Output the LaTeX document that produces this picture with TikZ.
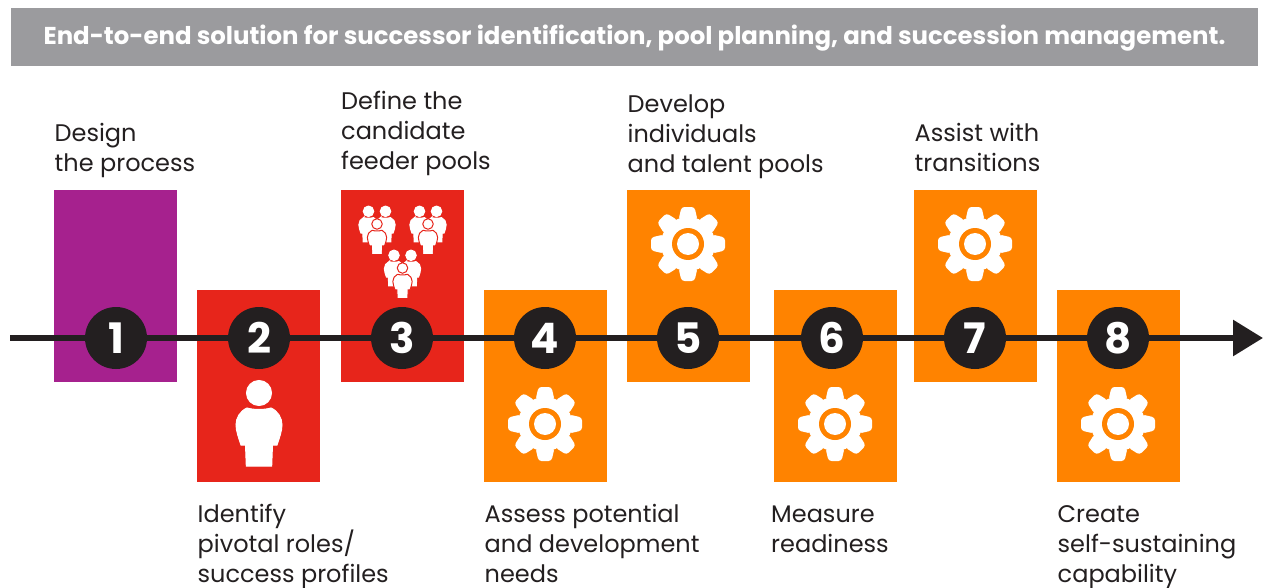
\documentclass[tikz,border=0pt]{standalone}
\usepackage{xcolor}
\usepackage{fontspec}
\setmainfont{Poppins}
\definecolor{headgray}{RGB}{155, 155, 158}
\definecolor{stagepurple}{RGB}{166, 33, 142}
\definecolor{stagered}{RGB}{231, 37, 27}
\definecolor{stageorange}{RGB}{255, 131, 0}
\definecolor{linedark}{RGB}{35, 31, 32}
\usetikzlibrary{arrows.meta, positioning, calc}
\tikzset{
    stagebox/.style={fill=#1, minimum width=123pt, minimum height=192pt, inner sep=0pt},
    numdot/.style={circle, fill=linedark, text=white, minimum size=62pt, inner sep=0pt, font=\fontsize{42}{42}\selectfont\bfseries},
    steplabel/.style={anchor=base west, inner sep=0pt, align=left, text=linedark, font=\fontsize{24}{30}\selectfont},
    gear/.pic={
        \fill[white] (0,0) circle (27);
        \foreach \a in {0,45,...,315}
            \fill[white, rotate=\a, rounded corners=3pt] (-9.5,-24) -- (-6.5,-37) -- (6.5,-37) -- (9.5,-24) -- cycle;
        \fill[stageorange] (0,0) circle (16);
        \fill[white] (0,0) circle (11);
    },
    personedge/.initial=white,
    personbody/.style={fill=white, draw=\pgfkeysvalueof{/tikz/personedge}, line width=1pt},
    person/.pic={
        \draw[personbody] (-12,15) .. controls (-19,18) and (-23,25) .. (-23,32)
            .. controls (-23,38) and (-20,46) .. (-18,52) -- (-13.5,52) -- (-12.7,73) -- (12.7,73) -- (13.5,52) -- (18,52)
            .. controls (20,46) and (23,38) .. (23,32) .. controls (23,25) and (19,18) .. (12,15)
            .. controls (5,17) and (-5,17) .. cycle;
        \draw[personbody] (0,0) circle (12.5);
    },
    trio/.pic={
        \pic[scale=.42] at (-8.5,-12.7) {person};
        \pic[scale=.42] at (8.5,-12.7) {person};
        \pic[scale=.42, personedge=stagered] at (0,0) {person};
    }
}
\begin{document}
\begin{tikzpicture}[x=1pt, y=-1pt]
    \useasboundingbox (0,0) rectangle (1268,588);
    % banner
    \node[fill=headgray, text=white, minimum width=1247pt, minimum height=58pt, inner sep=0pt,
          text height=14.6pt, text depth=0pt,
          font=\fontsize{24.4}{28}\selectfont\bfseries] (banner) at (634.5,37)
        {End-to-end solution for successor identification, pool planning, and succession management.};
    % stage boxes
    \node[stagebox=stagepurple] (box1) at (115.5,286) {};
    \node[stagebox=stagered] (box2) at (258.5,386) {};
    \node[stagebox=stagered] (box3) at (402.5,286) {};
    \node[stagebox=stageorange] (box4) at (545.5,386) {};
    \node[stagebox=stageorange] (box5) at (688.5,286) {};
    \node[stagebox=stageorange] (box6) at (835.5,386) {};
    \node[stagebox=stageorange] (box7) at (975.5,286) {};
    \node[stagebox=stageorange] (box8) at (1118.5,386) {};
    % timeline
    \coordinate (tstart) at (10,338);
    \coordinate (tend) at (1263,338);
    \draw[linedark, line width=6pt, -{Triangle[length=30pt, width=35pt]}] (tstart) -- (tend);
    % numbers
    \node[numdot] (num1) at (116,338) {1};
    \node[numdot] (num2) at (259,338) {2};
    \node[numdot] (num3) at (402,338) {3};
    \node[numdot] (num4) at (545,338) {4};
    \node[numdot] (num5) at (688,338) {5};
    \node[numdot] (num6) at (832,338) {6};
    \node[numdot] (num7) at (975,338) {7};
    \node[numdot] (num8) at (1118,338) {8};
    % icons
    \pic at (259,393) {person};
    \pic at (377,224) {trio};
    \pic at (428,224) {trio};
    \pic at (402.5,268) {trio};
    \pic at (688,244) {gear};
    \pic at (975,244) {gear};
    \pic at (545,424) {gear};
    \pic at (835,424) {gear};
    \pic at (1118,424) {gear};
    % labels
    \node[steplabel] (text1) at (54.5,172) {Design\\the process};
    \node[steplabel] (text2) at (197.5,582) {Identify\\pivotal roles/\\success profiles};
    \node[steplabel] (text3) at (341,170) {Define the\\candidate\\feeder pools};
    \node[steplabel] (text4) at (484.5,582) {Assess potential\\and development\\needs};
    \node[steplabel] (text5) at (627.5,173) {Develop\\individuals\\and talent pools};
    \node[steplabel] (text6) at (771,552) {Measure\\readiness};
    \node[steplabel] (text7) at (914.5,172) {Assist with\\transitions};
    \node[steplabel] (text8) at (1057.5,582) {Create\\self-sustaining\\capability};
\end{tikzpicture}
\end{document}
